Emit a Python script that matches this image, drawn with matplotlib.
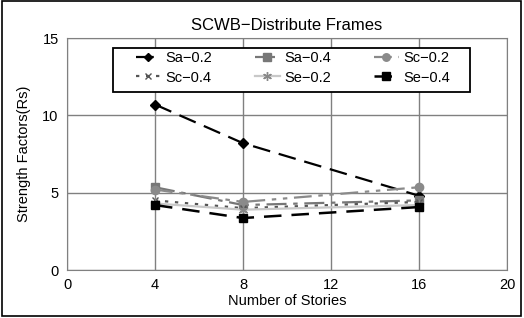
import matplotlib
matplotlib.use("Agg")
import matplotlib.pyplot as plt
from matplotlib.patches import Rectangle

plt.rcParams['font.family'] = ['Liberation Sans', 'DejaVu Sans']

stories = [4, 8, 16]
sa_02 = [10.7, 8.2, 4.8]
sa_04 = [5.35, 4.2, 4.5]
sc_02 = [5.2, 4.4, 5.35]
sc_04 = [4.5, 4.0, 4.4]
se_02 = [4.3, 3.9, 4.2]
se_04 = [4.2, 3.36, 4.07]
labels = ["Sa-0.2", "Sa-0.4", "Sc-0.2", "Sc-0.4", "Se-0.2", "Se-0.4"]

fig = plt.figure(figsize=(5.24, 3.18), dpi=100)
fig.patches.append(Rectangle((0.003, 0.006), 0.992, 0.99, transform=fig.transFigure,
                             fill=False, edgecolor="black", linewidth=1.2))
ax = fig.add_axes([67/524, 1-270/318, 440/524, 232/318])

h = []
h += ax.plot(stories, sa_02, color="black", linestyle=(0, (8, 4)), linewidth=1.6,
             marker="D", markersize=5, label=labels[0])
h += ax.plot(stories, sa_04, color="#777777", linestyle=(0, (9, 3, 2, 3)), linewidth=1.6,
             marker="s", markersize=6, label=labels[1])
h += ax.plot(stories, sc_02, color="#8a8a8a", linestyle=(0, (8, 3, 2, 3, 2, 3)), linewidth=1.6,
             marker="o", markersize=6, label=labels[2])
h += ax.plot(stories, sc_04, color="#555555", linestyle=(0, (1.5, 3)), linewidth=1.6,
             marker="x", markersize=5, label=labels[3])
h += ax.plot(stories, se_02, color="#c8c8c8", linestyle="-", linewidth=1.6,
             marker=(6, 2, 0), markersize=7, markeredgecolor="#888888", label=labels[4])
h += ax.plot(stories, se_04, color="black", linestyle=(0, (7, 4)), linewidth=1.8,
             marker="s", markersize=6, label=labels[5])

ax.set_xlim(0, 20)
ax.set_ylim(0, 15)
ax.set_xticks([0, 4, 8, 12, 16, 20])
ax.set_yticks([0, 5, 10, 15])
ax.grid(True, color="#808080", linewidth=1.0)
ax.set_axisbelow(True)
for s in ax.spines.values():
    s.set_color("#808080")
ax.tick_params(length=0, labelsize=10.5, pad=6)
ax.set_xlabel("Number of Stories", fontsize=10.5, labelpad=1)
ax.set_ylabel("Strength Factors(Rs)", fontsize=10.5, labelpad=8)
ax.set_title("SCWB\u2212Distribute Frames", fontsize=12, pad=6)

# legend frame
frame = Rectangle((46/440, 1-54/232), 357/440, 44/232, transform=ax.transAxes,
                  facecolor="white", edgecolor="black", linewidth=1.3, zorder=6)
ax.add_patch(frame)

order = [0, 3, 1, 4, 2, 5]
leg = ax.legend([h[i] for i in order],
                [labels[i].replace("-", "\u2212") for i in order],
                ncol=3, loc="upper left", bbox_to_anchor=(69/440, 1-13/232),
                fontsize=10.5, frameon=False, handlelength=1.7, handletextpad=0.3,
                borderpad=0, borderaxespad=0, labelspacing=0.38, columnspacing=2.95,
                markerscale=0.9)
leg.set_zorder(7)

fig.savefig("out.png", dpi=100)
